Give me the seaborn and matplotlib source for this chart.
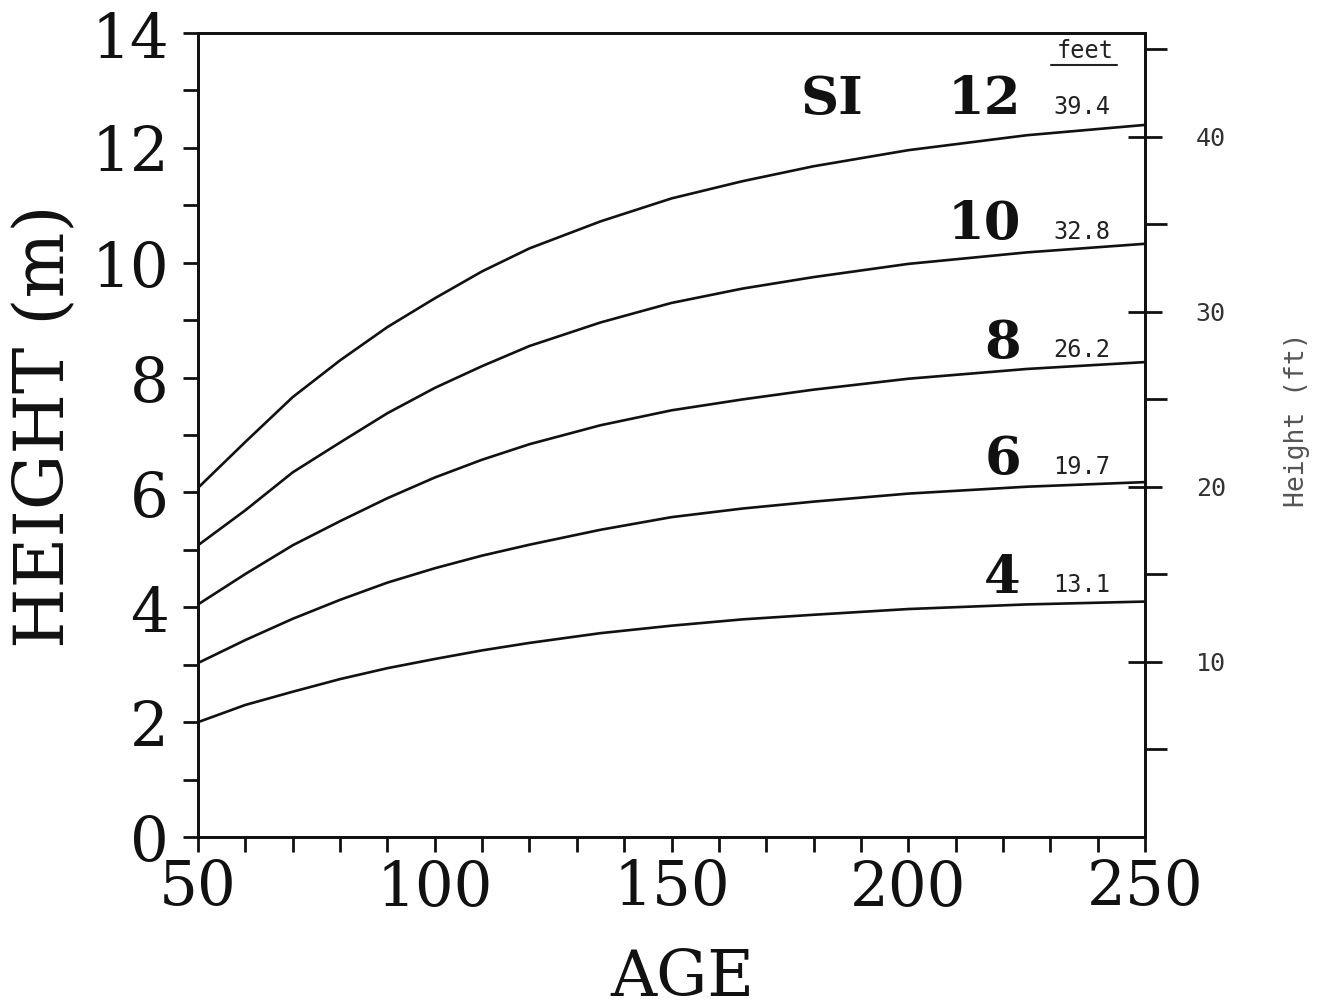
import pandas as pd
import matplotlib
matplotlib.use("Agg")
import matplotlib.pyplot as plt
from matplotlib.ticker import MultipleLocator, FixedLocator
import seaborn as sns

# values (height in m by stand age, per site index)
ages = [50, 60, 70, 80, 90, 100, 110, 120, 135, 150, 165, 180, 200, 225, 250]
si_classes = [12, 10, 8, 6, 4]
si_feet = ["39.4", "32.8", "26.2", "19.7", "13.1"]
height_si12 = [6.08, 6.88, 7.66, 8.30, 8.88, 9.38, 9.85, 10.25, 10.72, 11.12, 11.42, 11.68, 11.96, 12.22, 12.40]
height_si10 = [5.08, 5.69, 6.35, 6.87, 7.38, 7.82, 8.20, 8.55, 8.96, 9.30, 9.55, 9.75, 9.98, 10.18, 10.33]
height_si8 = [4.05, 4.58, 5.08, 5.50, 5.90, 6.26, 6.57, 6.84, 7.17, 7.43, 7.62, 7.79, 7.98, 8.15, 8.27]
height_si6 = [3.03, 3.43, 3.80, 4.13, 4.43, 4.68, 4.90, 5.09, 5.35, 5.57, 5.72, 5.84, 5.98, 6.10, 6.18]
height_si4 = [2.00, 2.30, 2.53, 2.75, 2.94, 3.10, 3.25, 3.38, 3.55, 3.68, 3.79, 3.87, 3.97, 4.05, 4.10]

M_TO_FT = 1 / 0.3048

curves = [height_si12, height_si10, height_si8, height_si6, height_si4]
frames = []
for si, h in zip(si_classes, curves):
    frames.append(pd.DataFrame({"age": ages, "height": h, "si": si}))
df = pd.concat(frames, ignore_index=True)

sns.set_style("ticks")
serif = "DejaVu Serif"
mono = "DejaVu Sans Mono"

fig = plt.figure(figsize=(13.28, 10.07), dpi=100)
ax = fig.add_axes([0.1491, 0.1688, 0.7131, 0.7984])

sns.lineplot(data=df, x="age", y="height", hue="si", units="si", estimator=None,
             palette=["#111111"] * len(si_classes), legend=False, linewidth=1.9, ax=ax)

ax.set_xlim(50, 250)
ax.set_ylim(0, 14)
ax.xaxis.set_major_locator(MultipleLocator(50))
ax.xaxis.set_minor_locator(MultipleLocator(10))
ax.yaxis.set_major_locator(MultipleLocator(2))
ax.yaxis.set_minor_locator(MultipleLocator(1))
for s in ax.spines.values():
    s.set_linewidth(2)
    s.set_color("#111111")

ax.tick_params(axis="both", which="both", direction="out", width=2, color="#111111")
ax.tick_params(axis="y", which="both", length=11, pad=10)
ax.tick_params(axis="x", which="both", length=11, pad=4)
ax.tick_params(axis="both", which="major", labelsize=44, labelcolor="#111111")
for lab in ax.get_xticklabels() + ax.get_yticklabels():
    lab.set_family(serif)

ax.set_xlabel("AGE", fontsize=46, family=serif, color="#111111")
ax.set_ylabel("HEIGHT (m)", fontsize=50, family=serif, color="#111111")
ax.yaxis.label.set_va("center")
ax.yaxis.set_label_coords(-0.162, 0.511)
ax.xaxis.set_label_coords(0.512, -0.138)

# right axis in feet
ax2 = ax.twinx()
ax2.set_ylim(0, 14 * M_TO_FT)
ax2.yaxis.set_major_locator(FixedLocator([10, 20, 30, 40]))
ax2.yaxis.set_minor_locator(FixedLocator([5, 15, 25, 35, 45]))
ax2.tick_params(axis="y", which="major", direction="inout", length=25, width=2,
                pad=24, labelsize=18, labelcolor="#333333", color="#111111")
ax2.tick_params(axis="y", which="minor", direction="out", length=16, width=2, color="#111111")
for lab in ax2.get_yticklabels():
    lab.set_family(mono)
for s in ax2.spines.values():
    s.set_linewidth(2)
    s.set_color("#111111")
ax2.set_ylabel("Height (ft)", fontsize=19, family=mono, color="#555555")
ax2.yaxis.label.set_va("center")
ax2.yaxis.set_label_coords(1.160, 0.519)

# curve labels
label_y = [12.84, 10.66, 8.60, 6.57, 4.51]
ax.text(183.9, 12.84, "SI", fontsize=38, family=serif, fontweight="bold",
        ha="center", va="center", color="#111111")
for si, ft, y in zip(si_classes, si_feet, label_y):
    ax.text(223.8, y, str(si), fontsize=38, family=serif, fontweight="bold",
            ha="right", va="center", color="#111111")
    ax.text(230.6, y - 0.12, ft, fontsize=17, family=mono,
            ha="left", va="center", color="#222222")

ax.text(237.3, 13.68, "feet", fontsize=17, family=mono, ha="center", va="center", color="#222222")
ax.plot([0.901, 0.970], [0.960, 0.960], transform=ax.transAxes, color="#222222", linewidth=1.5)

fig.savefig("out.png", dpi=100, facecolor="white")
